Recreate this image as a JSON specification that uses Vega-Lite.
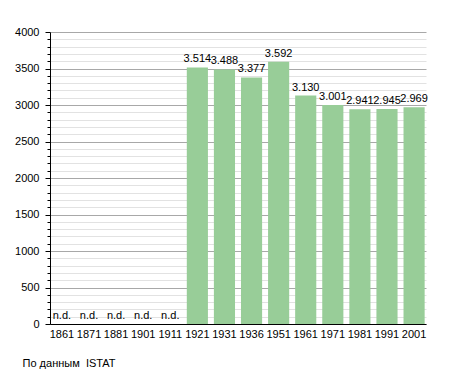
{
  "$schema": "https://vega.github.io/schema/vega-lite/v6.json",
  "width": 376,
  "height": 292,
  "autosize": {"type": "none"},
  "padding": {"left": 50, "top": 32, "right": 29, "bottom": 49},
  "background": "white",
  "config": {
    "font": "Liberation Sans",
    "view": {"stroke": null},
    "axis": {"labelFont": "Liberation Sans", "labelFontSize": 11, "labelColor": "#000", "domainColor": "#000", "titleFontSize": 11}
  },
  "title": {
    "text": "По данным\u00a0 ISTAT",
    "orient": "bottom",
    "anchor": "start",
    "frame": "bounds",
    "fontSize": 11,
    "fontWeight": "normal",
    "font": "Liberation Sans",
    "color": "#000",
    "offset": 19,
    "dx": 8
  },
  "data": {
    "values": [
      {"year": "1861", "pop": null, "label": "n.d."},
      {"year": "1871", "pop": null, "label": "n.d."},
      {"year": "1881", "pop": null, "label": "n.d."},
      {"year": "1901", "pop": null, "label": "n.d."},
      {"year": "1911", "pop": null, "label": "n.d."},
      {"year": "1921", "pop": 3514, "label": "3.514"},
      {"year": "1931", "pop": 3488, "label": "3.488"},
      {"year": "1936", "pop": 3377, "label": "3.377"},
      {"year": "1951", "pop": 3592, "label": "3.592"},
      {"year": "1961", "pop": 3130, "label": "3.130"},
      {"year": "1971", "pop": 3001, "label": "3.001"},
      {"year": "1981", "pop": 2941, "label": "2.941"},
      {"year": "1991", "pop": 2945, "label": "2.945"},
      {"year": "2001", "pop": 2969, "label": "2.969"}
    ]
  },
  "encoding": {
    "x": {
      "field": "year",
      "type": "nominal",
      "sort": null,
      "scale": {"domain": ["1861","1871","1881","1901","1911","1921","1931","1936","1951","1961","1971","1981","1991","2001"], "paddingInner": 0.22, "paddingOuter": 0.05},
      "axis": {"title": null, "labelAngle": 0, "ticks": false, "labelPadding": 4, "domainColor": "#000"}
    }
  },
  "layer": [
    {
      "mark": {"type": "bar", "color": "#98cd98"},
      "transform": [{"filter": "datum.pop != null"}],
      "encoding": {
        "y": {
          "field": "pop",
          "type": "quantitative",
          "scale": {"domain": [0, 4000], "nice": false},
          "axis": {
            "title": null,
            "values": [0,100,200,300,400,500,600,700,800,900,1000,1100,1200,1300,1400,1500,1600,1700,1800,1900,2000,2100,2200,2300,2400,2500,2600,2700,2800,2900,3000,3100,3200,3300,3400,3500,3600,3700,3800,3900,4000],
            "labelExpr": "datum.value % 500 === 0 ? datum.value : ''",
            "labelOverlap": false,
            "labelPadding": 6,
            "grid": true,
            "gridColor": {"condition": {"test": "datum.value % 500 === 0", "value": "#a8a8a8"}, "value": "#e2e2e2"},
            "tickColor": "#000",
            "tickSize": {"condition": {"test": "datum.value % 500 === 0", "value": 5}, "value": 3},
            "domainColor": "#000"
          }
        }
      }
    },
    {
      "mark": {"type": "text", "baseline": "bottom", "dy": -3, "fontSize": 11, "color": "#000", "font": "Liberation Sans"},
      "transform": [{"filter": "datum.pop != null"}],
      "encoding": {
        "y": {
          "field": "pop",
          "type": "quantitative",
          "scale": {"domain": [0, 4000], "nice": false},
          "axis": {
            "title": null,
            "values": [0,100,200,300,400,500,600,700,800,900,1000,1100,1200,1300,1400,1500,1600,1700,1800,1900,2000,2100,2200,2300,2400,2500,2600,2700,2800,2900,3000,3100,3200,3300,3400,3500,3600,3700,3800,3900,4000],
            "labelExpr": "datum.value % 500 === 0 ? datum.value : ''",
            "labelOverlap": false,
            "labelPadding": 6,
            "grid": true,
            "gridColor": {"condition": {"test": "datum.value % 500 === 0", "value": "#a8a8a8"}, "value": "#e2e2e2"},
            "tickColor": "#000",
            "tickSize": {"condition": {"test": "datum.value % 500 === 0", "value": 5}, "value": 3},
            "domainColor": "#000"
          }
        },
        "text": {"field": "label"}
      }
    },
    {
      "mark": {"type": "text", "baseline": "bottom", "dy": -3, "fontSize": 11, "color": "#000", "font": "Liberation Sans"},
      "transform": [{"filter": "datum.pop == null"}],
      "encoding": {
        "y": {
          "datum": 0,
          "type": "quantitative",
          "scale": {"domain": [0, 4000], "nice": false},
          "axis": {
            "title": null,
            "values": [0,100,200,300,400,500,600,700,800,900,1000,1100,1200,1300,1400,1500,1600,1700,1800,1900,2000,2100,2200,2300,2400,2500,2600,2700,2800,2900,3000,3100,3200,3300,3400,3500,3600,3700,3800,3900,4000],
            "labelExpr": "datum.value % 500 === 0 ? datum.value : ''",
            "labelOverlap": false,
            "labelPadding": 6,
            "grid": true,
            "gridColor": {"condition": {"test": "datum.value % 500 === 0", "value": "#a8a8a8"}, "value": "#e2e2e2"},
            "tickColor": "#000",
            "tickSize": {"condition": {"test": "datum.value % 500 === 0", "value": 5}, "value": 3},
            "domainColor": "#000"
          }
        },
        "text": {"field": "label"}
      }
    }
  ]
}
